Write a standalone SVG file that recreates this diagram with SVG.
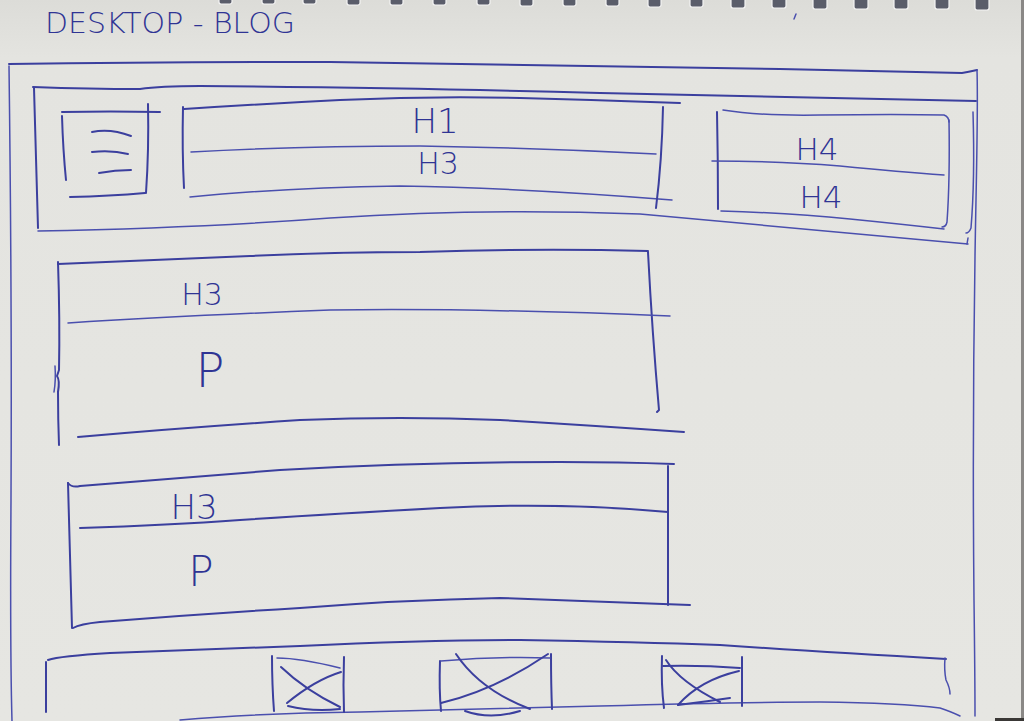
<svg xmlns="http://www.w3.org/2000/svg" width="1024" height="721" viewBox="0 0 1024 721">
<defs>
<linearGradient id="paper" x1="0" y1="0" x2="0" y2="1">
<stop offset="0" stop-color="#dcdcd8"/>
<stop offset="0.08" stop-color="#e4e4e0"/>
<stop offset="1" stop-color="#e6e6e2"/>
</linearGradient>
<style>
.ink{fill:none;stroke:#3b3f9e;stroke-width:2;stroke-linecap:round;stroke-linejoin:round}
.thin{stroke-width:1.5;stroke:#4a4fae}
.txt{font-family:"DejaVu Sans","Liberation Sans",sans-serif;font-weight:200;fill:#2f3494}
.ring{fill:#5a5d6a;stroke:#f4f4f4;stroke-width:1.2}
</style>
</defs>
<rect width="1024" height="721" fill="url(#paper)"/>
<rect x="1021" y="0" width="3" height="721" fill="#8a8886"/>
<rect x="995" y="718" width="29" height="3" fill="#3a3836"/>

<g id="binding">
<rect class="ring" x="219" y="-3" width="13" height="7" rx="2"/>
<rect class="ring" x="262" y="-3" width="13" height="7" rx="2"/>
<rect class="ring" x="303" y="-3" width="13" height="7" rx="2"/>
<rect class="ring" x="347" y="-3" width="13" height="8" rx="2"/>
<rect class="ring" x="390" y="-3" width="13" height="8" rx="2"/>
<rect class="ring" x="433" y="-3" width="13" height="8" rx="2"/>
<rect class="ring" x="477" y="-3" width="13" height="8" rx="2"/>
<rect class="ring" x="520" y="-3" width="13" height="9" rx="2"/>
<rect class="ring" x="563" y="-3" width="13" height="9" rx="2"/>
<rect class="ring" x="606" y="-3" width="13" height="9" rx="2"/>
<rect class="ring" x="648" y="-3" width="13" height="10" rx="2"/>
<rect class="ring" x="690" y="-3" width="13" height="10" rx="2"/>
<rect class="ring" x="731" y="-3" width="14" height="11" rx="2"/>
<rect class="ring" x="772" y="-3" width="14" height="11" rx="2"/>
<rect class="ring" x="813" y="-3" width="14" height="12" rx="2"/>
<rect class="ring" x="854" y="-3" width="14" height="12" rx="2"/>
<rect class="ring" x="894" y="-3" width="14" height="12" rx="2"/>
<rect class="ring" x="935" y="-3" width="14" height="12" rx="2"/>
<rect class="ring" x="975" y="-3" width="14" height="13" rx="2"/>
<path class="ink thin" d="M796 14 L794 19"/>
</g>

<g id="title">
<text class="txt" x="45" y="33" font-size="28" textLength="250" lengthAdjust="spacingAndGlyphs">DESKTOP - BLOG</text>
</g>

<g id="page-frame">
<path class="ink" d="M9 64 Q160 62 330 62 Q650 66 780 69 Q900 72 962 73 Q968 72 977 70"/>
<path class="ink thin" d="M9 66 Q12 300 11 500 Q10 650 12 721"/>
<path class="ink thin" d="M977 70 Q978 100 976 200 Q972 400 974 600 Q975 680 975 716"/>
</g>

<g id="header">
<path class="ink" d="M33 87 Q90 89 140 89 Q160 86 200 86 Q420 88 600 93 Q800 97 976 101"/>
<path class="ink" d="M34 88 Q36 150 38 228"/>
<path class="ink thin" d="M38 231 Q200 228 330 218 Q480 208 640 214 Q800 228 968 244"/>
<path class="ink thin" d="M967 244 L968 238"/>
<path class="ink thin" d="M973 112 Q975 180 971 228 Q969 233 966 233"/>
</g>

<g id="menu-button">
<path class="ink" d="M62 112 Q110 111 160 112"/>
<path class="ink" d="M62 116 Q63 150 66 180"/>
<path class="ink" d="M148 104 Q149 150 146 193"/>
<path class="ink" d="M70 197 Q110 196 145 193"/>
<path class="ink" d="M92 132 Q110 128 131 136"/>
<path class="ink" d="M92 152 Q112 150 128 154"/>
<path class="ink" d="M99 173 Q115 170 131 170"/>
</g>

<g id="title-block">
<path class="ink" d="M183 107 Q182 150 184 188"/>
<path class="ink" d="M184 109 Q260 104 340 100 Q430 96 520 98 Q600 100 680 103"/>
<path class="ink thin" d="M191 152 Q300 146 420 146 Q540 148 656 154"/>
<path class="ink thin" d="M190 197 Q280 188 400 186 Q520 188 672 200"/>
<path class="ink" d="M663 107 Q662 160 656 208"/>
<text class="txt" x="435" y="133" font-size="34" text-anchor="middle">H1</text>
<text class="txt" x="438" y="174" font-size="30" text-anchor="middle">H3</text>
</g>

<g id="nav-links">
<path class="ink" d="M717 112 Q718 160 718 209"/>
<path class="ink thin" d="M723 110 Q760 116 820 115 Q900 114 944 115 Q949 117 949 122"/>
<path class="ink thin" d="M949 120 Q950 180 947 222 Q946 227 942 227"/>
<path class="ink thin" d="M712 161 Q780 161 840 166 Q900 172 944 175"/>
<path class="ink thin" d="M721 211 Q790 213 850 219 Q900 224 944 229"/>
<text class="txt" x="817" y="160" font-size="31" text-anchor="middle">H4</text>
<text class="txt" x="821" y="208" font-size="31" text-anchor="middle">H4</text>
</g>

<g id="post-1">
<path class="ink" d="M58 264 Q150 260 250 256 Q330 252 420 252 Q540 248 648 251"/>
<path class="ink" d="M58 262 Q60 320 59 370 L57 376 Q60 380 58 392 Q58 420 59 445"/>
<path class="ink thin" d="M55 366 Q56 380 54 392"/>
<path class="ink" d="M648 252 Q652 330 659 410 L657 412"/>
<path class="ink thin" d="M68 323 Q180 316 330 310 Q480 308 670 316"/>
<path class="ink" d="M78 437 Q180 428 300 420 Q400 416 500 420 Q600 426 684 432"/>
<text class="txt" x="202" y="305" font-size="30" text-anchor="middle">H3</text>
<text class="txt" x="210" y="387" font-size="48" text-anchor="middle">P</text>
</g>

<g id="post-2">
<path class="ink" d="M68 483 Q72 488 80 486 Q180 478 280 470 Q420 462 560 462 Q620 462 674 464"/>
<path class="ink" d="M68 483 Q70 560 72 628"/>
<path class="ink" d="M668 466 Q668 540 668 605"/>
<path class="ink" d="M80 528 Q170 525 240 520 Q330 514 440 508 Q560 502 668 512"/>
<path class="ink" d="M73 628 Q80 624 100 622 Q200 614 300 608 Q400 600 500 598 Q620 602 690 605"/>
<text class="txt" x="194" y="519" font-size="34" text-anchor="middle">H3</text>
<text class="txt" x="201" y="586" font-size="42" text-anchor="middle">P</text>
</g>

<g id="footer">
<path class="ink" d="M48 660 Q60 656 110 653 Q200 650 300 646 Q420 640 520 640 Q640 642 720 645 Q820 652 946 659"/>
<path class="ink" d="M46 662 Q46 690 46 712"/>
<path class="ink thin" d="M945 658 Q944 670 946 680 Q950 688 950 694"/>
<path class="ink thin" d="M180 720 Q260 713 360 712 Q500 708 600 706 Q740 702 820 702 Q900 703 940 708 Q952 712 960 716"/>
</g>

<g id="footer-image-1">
<path class="ink" d="M272 656 Q272 685 274 711"/>
<path class="ink" d="M344 657 Q343 685 344 712"/>
<path class="ink thin" d="M277 658 Q300 658 340 668"/>
<path class="ink" d="M281 667 Q305 690 340 707"/>
<path class="ink" d="M341 672 Q315 680 287 703"/>
<path class="ink" d="M288 706 Q312 712 340 709"/>
</g>

<g id="footer-image-2">
<path class="ink" d="M440 661 Q439 690 441 711"/>
<path class="ink" d="M551 654 Q551 685 552 709"/>
<path class="ink thin" d="M441 661 Q500 656 550 658"/>
<path class="ink" d="M456 654 Q480 690 530 709"/>
<path class="ink" d="M548 654 Q495 690 441 703"/>
<path class="ink" d="M465 711 Q490 720 520 711"/>
</g>

<g id="footer-image-3">
<path class="ink" d="M662 656 Q661 685 664 708"/>
<path class="ink" d="M742 657 Q742 685 742 706"/>
<path class="ink" d="M663 666 Q700 665 740 668"/>
<path class="ink" d="M666 660 Q680 682 720 702"/>
<path class="ink" d="M739 671 Q700 680 678 705"/>
<path class="ink" d="M678 705 Q710 701 730 698"/>
</g>

<g id="connectors"></g>
</svg>
